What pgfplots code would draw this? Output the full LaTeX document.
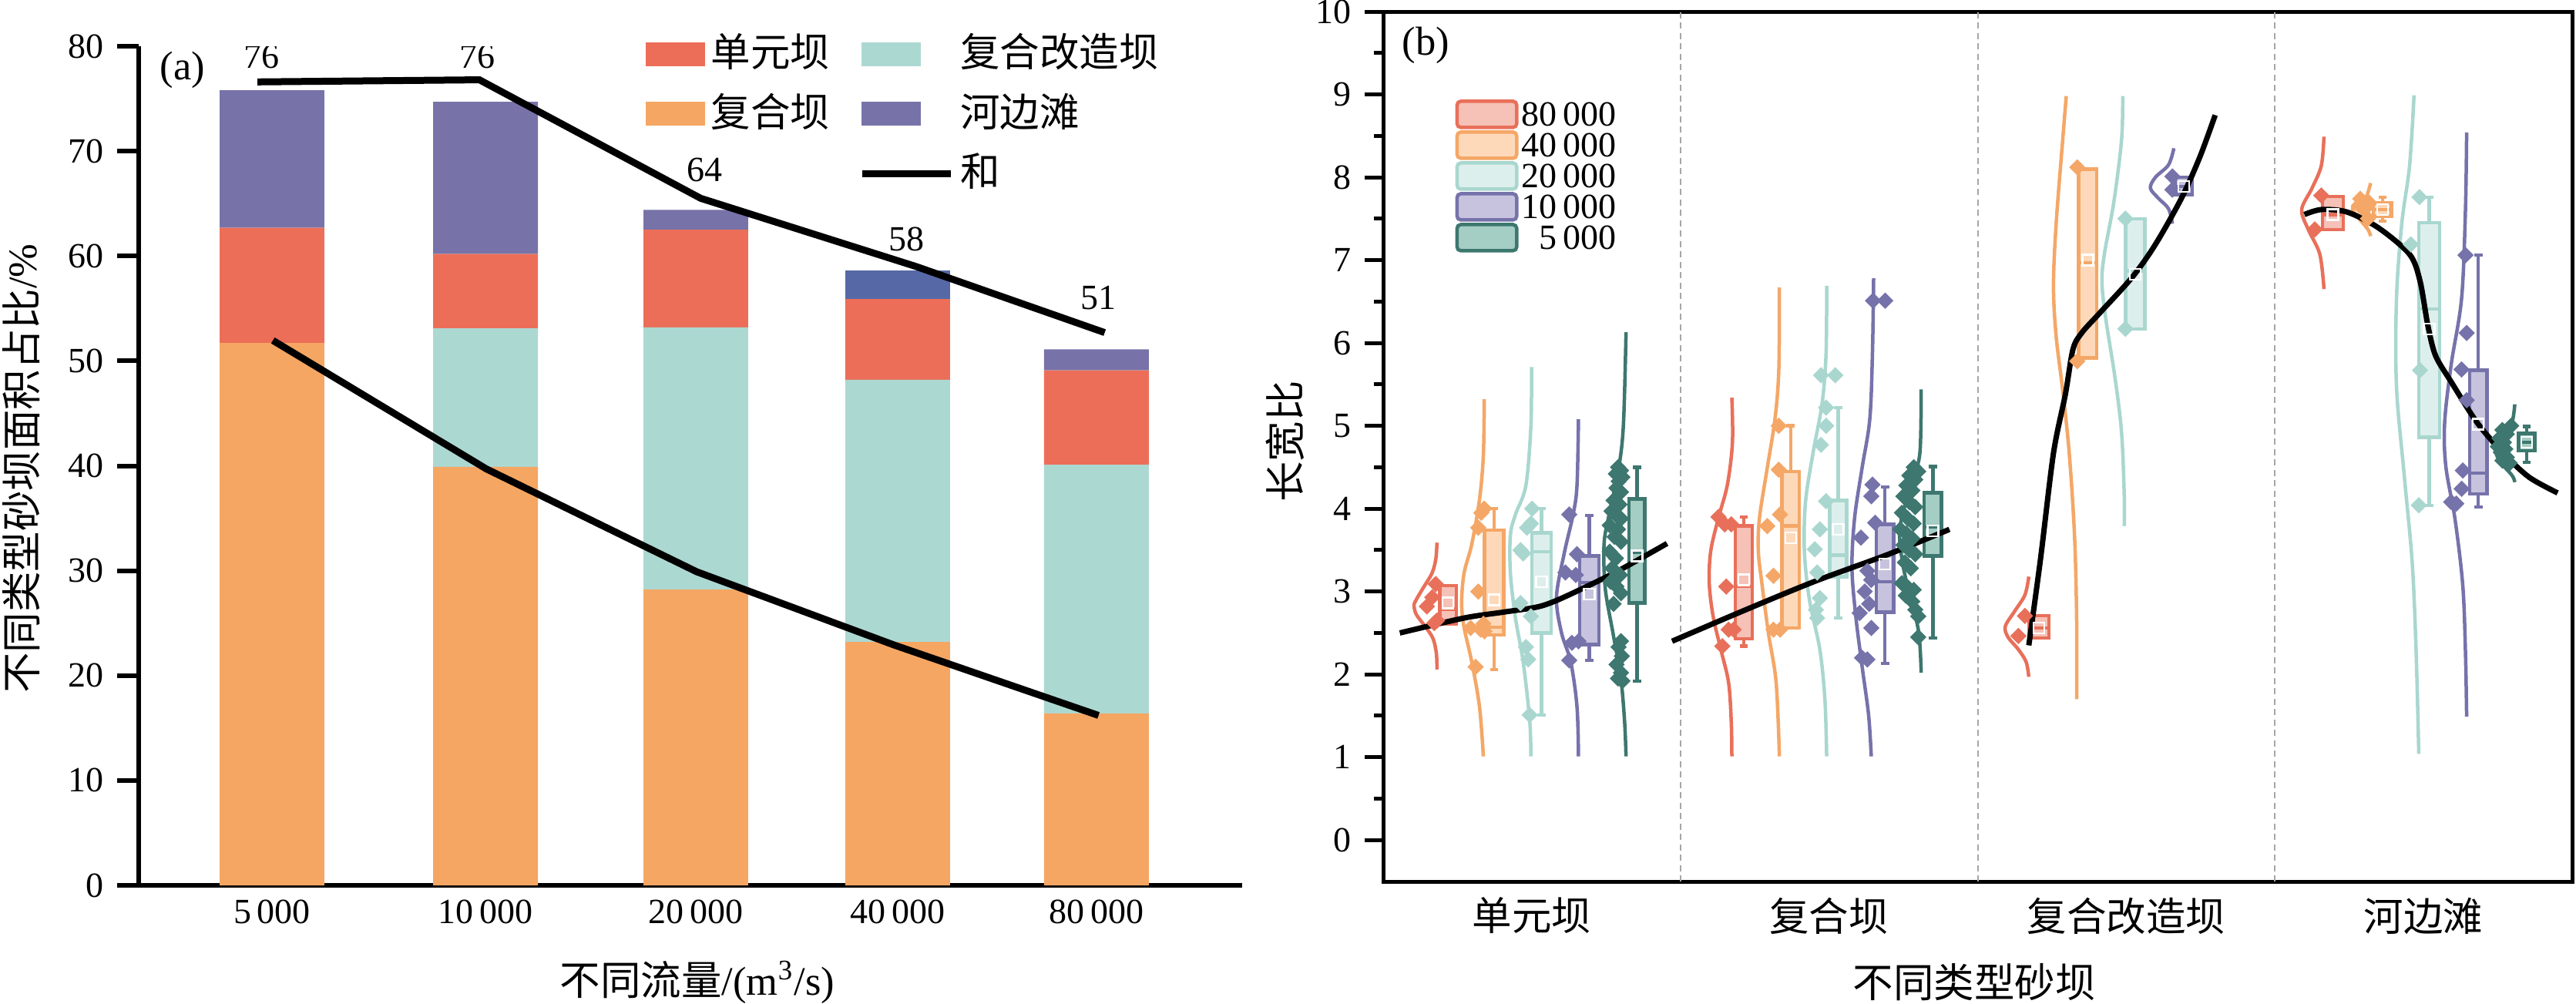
\documentclass[border=0pt]{standalone}
\usepackage{pgfplots}
\pgfplotsset{compat=1.18}
\usepgfplotslibrary{statistics}
\usepackage{pgfplotstable}
\usepackage{fontspec}
\setmainfont{Liberation Serif}
\newfontfamily\cjk{Noto Sans CJK SC}

\definecolor{aorange}{HTML}{F5A663}
\definecolor{ared}{HTML}{EC6E58}
\definecolor{ateal}{HTML}{ACD8D2}
\definecolor{apurple}{HTML}{7773A9}
\definecolor{ablue}{HTML}{5668A6}

\definecolor{bred}{HTML}{E8705A}
\definecolor{bredf}{HTML}{F6C1B6}
\definecolor{bor}{HTML}{F4A767}
\definecolor{borf}{HTML}{FDD9BA}
\definecolor{bte}{HTML}{A9D7D0}
\definecolor{btef}{HTML}{DDEFEC}
\definecolor{bpu}{HTML}{7672AA}
\definecolor{bpuf}{HTML}{C7C3DE}
\definecolor{bdt}{HTML}{3D776F}
\definecolor{bdtf}{HTML}{A4CDC4}

\pgfplotstableread{
x fuhe gaizao danyuan hebian hebianB
0     51.7 0    11.0 13.1 0
1.036 39.9 13.2 7.1  14.5 0
2.056 28.2 25.0 9.3  1.9  0
3.035 23.2 25.0 7.7  0    2.7
4.0   16.4 23.7 9.0  2.0  0
}\dataA

\newcommand{\bxp}[9]{\addplot[boxplot prepared={draw direction=y, draw position=#3, box extend=#4, lower whisker=#5, lower quartile=#6, median=#7, upper quartile=#8, upper whisker=#9, whisker extend=0.028}, draw=#1, fill=#2, line width=0.9pt, solid] coordinates {};}

\pgfplotsset{
  vio/.style={smooth, tension=0.55, line width=0.9pt, draw=#1, no markers},
  dia/.style={only marks, mark=square*, mark size=1.3pt, mark options={rotate=45, draw=#1, fill=#1}},
  avg/.style={only marks, mark=square, mark size=1.4pt, mark options={draw=white, line width=0.5pt, fill=none}},
}

\begin{document}
\begin{tikzpicture}
\path[use as bounding box] (0,0) rectangle (668.6pt,260.4pt);

% ---------------- panel (a): bars
\begin{axis}[
  at={(36pt,30.6pt)}, anchor=south west,
  width=286.4pt, height=217.8pt, scale only axis,
  xmin=-0.647, xmax=4.707, ymin=0, ymax=80,
  ybar stacked, bar width=0.508,
  axis x line*=bottom, axis y line*=left,
  axis line style={-, line width=1.2pt},
  ytick={0,10,...,80},
  tick align=outside, major tick length=5.6pt,
  ytick style={line width=1.2pt, black},
  xtick={0,1.036,2.056,3.035,4},
  xticklabels={5\,000,10\,000,20\,000,40\,000,80\,000},
  xtick style={draw=none},
  xticklabel style={yshift=5.3pt},
  tick label style={font=\fontsize{9.2}{10}\selectfont},
  /pgf/number format/assume math mode=true,
]
\addplot[fill=aorange, draw=none] table[x=x,y=fuhe]{\dataA};
\addplot[fill=ateal, draw=none] table[x=x,y=gaizao]{\dataA};
\addplot[fill=ared, draw=none] table[x=x,y=danyuan]{\dataA};
\addplot[fill=apurple, draw=none] table[x=x,y=hebian]{\dataA};
\addplot[fill=ablue, draw=none] table[x=x,y=hebianB]{\dataA};
\end{axis}

% ---------------- panel (a): lines, labels, legend
\begin{axis}[
  at={(36pt,30.6pt)}, anchor=south west,
  width=286.4pt, height=217.8pt, scale only axis,
  xmin=-0.647, xmax=4.707, ymin=0, ymax=80,
  hide axis,
  legend columns=2,
  legend style={at={(rel axis cs:0.459,1.02)}, anchor=north west, draw=none, fill=none,
    inner sep=0pt, font=\cjk\fontsize{10.3}{11}\selectfont, row sep=3pt,
    nodes={inner sep=1.5pt, text height=8pt, text depth=1.5pt},
    /tikz/every even column/.append style={column sep=6pt}},
  legend cell align=left,
]
\addlegendimage{legend image code/.code={\fill[ared] (0pt,-2.9pt) rectangle (15pt,2.9pt);}}
\addlegendentry{单元坝}
\addlegendimage{legend image code/.code={\fill[ateal] (0pt,-2.9pt) rectangle (15pt,2.9pt);}}
\addlegendentry{复合改造坝}
\addlegendimage{legend image code/.code={\fill[aorange] (0pt,-2.9pt) rectangle (15pt,2.9pt);}}
\addlegendentry{复合坝}
\addlegendimage{legend image code/.code={\fill[apurple] (0pt,-2.9pt) rectangle (15pt,2.9pt);}}
\addlegendentry{河边滩}
\addlegendimage{empty legend}
\addlegendentry{}
\addlegendimage{legend image code/.code={\draw[black, line width=1.8pt] (0pt,0pt) -- (23pt,0pt);}}
\addlegendentry{和}

\addplot[black, line width=1.8pt] coordinates {(-0.071,76.6) (1.006,76.8) (2.08,65.5) (3.125,59.0) (4.04,52.7)};
\addplot[black, line width=1.8pt] coordinates {(0.004,51.95) (1.04,39.7) (2.06,29.9) (3.02,22.9) (4.01,16.2)};

\node[font=\fontsize{9.2}{10}\selectfont] at (axis cs:-0.05,79.0) {76};
\node[font=\fontsize{9.2}{10}\selectfont] at (axis cs:0.998,79.0) {76};
\node[font=\fontsize{9.2}{10}\selectfont] at (axis cs:2.10,68.2) {64};
\node[font=\fontsize{9.2}{10}\selectfont] at (axis cs:3.08,61.6) {58};
\node[font=\fontsize{9.2}{10}\selectfont] at (axis cs:4.01,56.0) {51};
\node[font=\fontsize{10.5}{11}\selectfont] at (axis cs:-0.434,77.7) {(a)};
\end{axis}

% ---------------- panel (b)
\begin{axis}[
  at={(359pt,31.6pt)}, anchor=south west,
  width=308.6pt, height=225.8pt, scale only axis,
  xmin=0.5, xmax=4.5, ymin=-0.5, ymax=10,
  axis line style={line width=1pt},
  ytick={0,1,...,10}, minor ytick={0.5,1.5,...,9.5},
  ytick pos=left, tick align=outside,
  major tick length=4.8pt, minor tick length=2.4pt,
  tick style={line width=1pt, black},
  xtick={1,2,3,4},
  xticklabels={单元坝,复合坝,复合改造坝,河边滩},
  xtick style={draw=none},
  xticklabel style={font=\cjk\fontsize{10.3}{11}\selectfont, yshift=4.2pt},
  yticklabel style={font=\fontsize{9.2}{10}\selectfont},
  /pgf/number format/assume math mode=true,
  extra x ticks={1.5,2.5,3.5},
  extra x tick labels={},
  extra x tick style={grid=major, major grid style={gray!70, line width=0.4pt, dash pattern=on 1.6pt off 1.1pt}, tick style={draw=none}},
  legend image code/.code={\draw[#1, rounded corners=1pt] (0pt,-3.4pt) rectangle (15.5pt,3.4pt);},
  legend style={at={(rel axis cs:0.060,0.900)}, anchor=north west, draw=none, fill=none,
    inner sep=0pt, font=\fontsize{9.2}{9}\selectfont, row sep=0.2pt,
    nodes={inner sep=0.8pt, text height=6.2pt, text depth=0pt}},
  legend cell align=right,
]
\addlegendimage{draw=bred, fill=bredf, line width=0.9pt}
\addlegendentry{80\,000}
\addlegendimage{draw=bor, fill=borf, line width=0.9pt}
\addlegendentry{40\,000}
\addlegendimage{draw=bte, fill=btef, line width=0.9pt}
\addlegendentry{20\,000}
\addlegendimage{draw=bpu, fill=bpuf, line width=0.9pt}
\addlegendentry{10\,000}
\addlegendimage{draw=bdt, fill=bdtf, line width=0.9pt}
\addlegendentry{5\,000}

% ---- violins
% cat 1
\addplot[vio=bred] coordinates {(0.681,3.59) (0.677,3.39) (0.664,3.22) (0.634,3.04) (0.608,2.88) (0.604,2.82) (0.612,2.72) (0.643,2.57) (0.668,2.43) (0.679,2.25) (0.681,2.06)};
\addplot[vio=bor] coordinates {(0.840,5.32) (0.837,4.64) (0.824,4.11) (0.798,3.57) (0.772,3.22) (0.764,2.86) (0.772,2.57) (0.798,2.15) (0.824,1.61) (0.837,1.01)};
\addplot[vio=bte] coordinates {(0.999,5.71) (0.997,5.00) (0.980,4.28) (0.945,3.93) (0.928,3.68) (0.928,3.22) (0.945,2.68) (0.971,2.15) (0.993,1.44) (0.997,1.01)};
\addplot[vio=bpu] coordinates {(1.157,5.08) (1.152,4.28) (1.139,3.93) (1.109,3.46) (1.083,2.93) (1.100,2.50) (1.131,2.15) (1.152,1.61) (1.157,1.01)};
\addplot[vio=bdt] coordinates {(1.317,6.13) (1.308,5.00) (1.291,4.46) (1.260,3.93) (1.243,3.57) (1.247,3.04) (1.273,2.50) (1.299,1.97) (1.312,1.44) (1.317,1.01)};
% cat 2
\addplot[vio=bred] coordinates {(1.673,5.34) (1.675,4.80) (1.658,4.29) (1.628,3.89) (1.602,3.49) (1.597,3.10) (1.610,2.70) (1.636,2.30) (1.662,1.90) (1.671,1.43) (1.673,1.01)};
\addplot[vio=bor] coordinates {(1.833,6.67) (1.831,5.68) (1.818,5.08) (1.792,4.49) (1.766,3.89) (1.762,3.49) (1.774,3.10) (1.796,2.50) (1.822,1.90) (1.833,1.01)};
\addplot[vio=bte] coordinates {(1.992,6.69) (1.990,5.88) (1.977,5.28) (1.947,4.69) (1.921,4.09) (1.917,3.49) (1.934,2.90) (1.969,2.30) (1.986,1.70) (1.992,1.01)};
\addplot[vio=bpu] coordinates {(2.150,6.78) (2.146,5.88) (2.137,5.08) (2.111,4.49) (2.086,3.89) (2.077,3.29) (2.090,2.70) (2.111,2.10) (2.133,1.51) (2.142,1.01)};
\addplot[vio=bdt] coordinates {(2.310,5.44) (2.306,4.69) (2.284,4.37) (2.250,3.97) (2.237,3.69) (2.250,3.29) (2.276,2.90) (2.302,2.50) (2.310,2.02)};
% cat 3
\addplot[vio=bred] coordinates {(2.672,3.18) (2.659,2.96) (2.624,2.76) (2.593,2.58) (2.602,2.45) (2.637,2.30) (2.663,2.15) (2.672,1.97)};
\addplot[vio=bor] coordinates {(2.798,8.98) (2.786,8.45) (2.764,7.44) (2.755,6.69) (2.764,6.08) (2.786,5.43) (2.808,4.67) (2.826,3.66) (2.833,2.65) (2.833,1.70)};
\addplot[vio=bte] coordinates {(2.988,8.98) (2.984,8.45) (2.958,7.70) (2.927,7.09) (2.918,6.74) (2.931,6.29) (2.962,5.58) (2.984,4.92) (2.993,4.17) (2.993,3.79)};
\addplot[vio=bpu] coordinates {(3.160,8.35) (3.142,8.15) (3.098,8.00) (3.081,7.87) (3.107,7.75) (3.142,7.62) (3.155,7.44)};
% cat 4
\addplot[vio=bred] coordinates {(3.665,8.49) (3.656,8.14) (3.625,7.87) (3.590,7.61) (3.612,7.37) (3.651,7.07) (3.665,6.65)};
\addplot[vio=bor] coordinates {(3.822,7.93) (3.804,7.74) (3.769,7.66) (3.761,7.61) (3.783,7.50) (3.813,7.37) (3.822,7.29)};
\addplot[vio=bte] coordinates {(3.968,8.99) (3.953,8.14) (3.927,7.45) (3.909,6.54) (3.909,5.47) (3.935,4.40) (3.962,3.34) (3.975,2.27) (3.984,1.04)};
\addplot[vio=bpu] coordinates {(4.145,8.54) (4.141,7.61) (4.128,6.54) (4.093,5.74) (4.071,5.04) (4.075,4.51) (4.106,3.87) (4.132,3.07) (4.141,2.27) (4.145,1.49)};
\addplot[vio=bdt] coordinates {(4.307,5.26) (4.294,4.99) (4.250,4.78) (4.241,4.70) (4.259,4.56) (4.298,4.40) (4.307,4.32)};

% ---- boxes
\bxp{bred}{bredf}{0.718}{0.056}{2.61}{2.61}{2.79}{3.07}{3.07}
\bxp{bor}{borf}{0.873}{0.065}{2.06}{2.475}{2.57}{3.74}{4.00}
\bxp{bte}{btef}{1.033}{0.065}{1.51}{2.50}{3.48}{3.71}{4.00}
\bxp{bpu}{bpuf}{1.193}{0.065}{2.17}{2.36}{3.11}{3.43}{3.92}
\bxp{bdt}{bdtf}{1.354}{0.053}{1.92}{2.86}{3.47}{4.12}{4.50}
\bxp{bred}{bredf}{1.713}{0.058}{2.34}{2.43}{3.06}{3.79}{3.90}
\bxp{bor}{borf}{1.871}{0.058}{2.56}{2.56}{3.79}{4.45}{5.00}
\bxp{bte}{btef}{2.031}{0.057}{2.68}{3.18}{3.44}{4.10}{5.22}
\bxp{bpu}{bpuf}{2.188}{0.058}{2.13}{2.75}{3.12}{3.81}{4.26}
\bxp{bdt}{bdtf}{2.349}{0.059}{2.44}{3.43}{3.78}{4.19}{4.51}
\bxp{bred}{bredf}{2.706}{0.068}{2.44}{2.44}{2.56}{2.71}{2.71}
\bxp{bor}{borf}{2.870}{0.062}{5.82}{5.82}{6.97}{8.10}{8.10}
\bxp{bte}{btef}{3.030}{0.066}{6.17}{6.17}{6.87}{7.50}{7.50}
\bxp{bpu}{bpuf}{3.193}{0.057}{7.79}{7.79}{7.89}{8.00}{8.00}
\bxp{bred}{bredf}{3.695}{0.070}{7.37}{7.37}{7.55}{7.77}{7.77}
\bxp{bor}{borf}{3.862}{0.061}{7.47}{7.53}{7.61}{7.69}{7.76}
\bxp{bte}{btef}{4.019}{0.070}{4.04}{4.86}{6.41}{7.45}{7.76}
\bxp{bpu}{bpuf}{4.184}{0.059}{4.02}{4.18}{4.43}{5.67}{7.06}
\bxp{bdt}{bdtf}{4.347}{0.054}{4.56}{4.70}{4.80}{4.91}{4.99}

% ---- scatter
\addplot[dia=bred] coordinates {(0.647,2.82) (0.677,3.09) (0.681,2.65) (0.665,2.93) (0.672,2.62)
  (1.628,3.90) (1.649,3.81) (1.671,3.81) (1.654,3.06) (1.662,2.54) (1.679,2.54) (1.641,2.34)
  (2.659,2.705) (2.637,2.463) (3.656,7.78) (3.634,7.37)};
\addplot[dia=bor] coordinates {(0.840,4.00) (0.820,3.77) (0.830,3.95) (0.820,3.00) (0.794,2.56) (0.828,2.54) (0.841,2.52) (0.811,2.09) (0.837,2.61)
  (1.831,5.00) (1.831,4.47) (1.835,3.93) (1.792,3.79) (1.813,3.19) (1.813,2.54) (1.835,2.54)
  (2.835,8.12) (2.835,5.78)
  (3.787,7.74) (3.800,7.61) (3.813,7.50) (3.818,7.69) (3.783,7.66)};
\addplot[dia=bte] coordinates {(1.001,4.00) (0.997,3.82) (0.984,3.77) (0.962,3.50) (0.971,3.46) (0.962,2.86) (0.997,2.70) (0.980,2.33) (0.988,2.18) (0.993,1.51)
  (1.973,5.61) (2.021,5.61) (1.990,5.22) (1.990,5.00) (1.973,4.77) (1.990,4.09) (1.969,3.75) (1.952,3.51) (1.960,3.23) (1.969,2.92) (1.956,2.78) (1.960,2.68)
  (2.997,7.50) (2.997,6.17)
  (3.986,7.76) (3.957,7.19) (3.988,5.67) (3.984,4.04)};
\addplot[dia=bpu] coordinates {(1.126,3.93) (1.152,3.45) (1.113,3.23) (1.148,3.20) (1.135,2.38) (1.157,2.40) (1.126,2.17)
  (2.148,6.51) (2.189,6.51) (2.146,4.29) (2.142,4.15) (2.155,3.83) (2.107,3.65) (2.129,3.25) (2.142,3.14) (2.103,2.74) (2.142,2.56) (2.111,2.20) (2.129,2.18) (2.120,3.00) (2.135,2.85)
  (3.155,8.01) (3.155,7.85)
  (4.141,7.06) (4.145,6.12) (4.128,5.68) (4.145,5.31) (4.132,4.46) (4.128,4.24) (4.110,4.06) (4.093,4.08)};
\addplot[dia=bdt] coordinates {(1.290,4.50) (1.300,4.46) (1.283,4.42) (1.305,4.38) (1.292,4.33) (1.285,4.25) (1.300,4.20) (1.275,4.10) (1.295,4.05) (1.268,3.97) (1.285,3.92) (1.300,3.88) (1.262,3.80) (1.290,3.75) (1.278,3.66) (1.300,3.60) (1.262,3.48) (1.283,3.40) (1.270,3.28) (1.297,3.20) (1.265,3.12) (1.285,3.06) (1.300,2.98) (1.275,2.85) (1.300,2.40) (1.292,2.33) (1.303,2.22) (1.285,2.12) (1.300,2.02) (1.290,1.95) (1.305,1.92)
  (2.285,4.50) (2.300,4.45) (2.270,4.40) (2.290,4.35) (2.260,4.28) (2.280,4.22) (2.250,4.15) (2.270,4.08) (2.290,4.02) (2.245,3.95) (2.265,3.88) (2.285,3.82) (2.240,3.75) (2.260,3.70) (2.280,3.64) (2.250,3.56) (2.270,3.50) (2.290,3.45) (2.255,3.35) (2.275,3.28) (2.245,3.10) (2.265,3.05) (2.285,3.02) (2.258,2.95) (2.280,2.88) (2.290,2.78) (2.300,2.70) (2.300,2.45)
  (4.265,4.95) (4.280,4.90) (4.255,4.85) (4.270,4.80) (4.250,4.75) (4.275,4.72) (4.260,4.68) (4.280,4.62) (4.265,4.58) (4.290,4.55) (4.295,5.00)};

% ---- means
\addplot[avg] coordinates {(0.718,2.86) (0.873,2.90) (1.033,3.12) (1.193,2.97) (1.354,3.43)
  (1.713,3.14) (1.871,3.65) (2.031,3.75) (2.188,3.33) (2.349,3.73)
  (2.706,2.56) (2.870,7.00) (3.030,6.83) (3.193,7.89)
  (3.695,7.55) (3.862,7.61) (4.019,6.17) (4.184,5.02) (4.347,4.80)};

% ---- trend lines
\addplot[black, line width=1.4pt, smooth, tension=0.5] coordinates {(0.556,2.50) (0.772,2.68) (0.902,2.75) (1.014,2.81) (1.075,2.88) (1.161,3.02) (1.291,3.25) (1.455,3.58)};
\addplot[black, line width=1.4pt, smooth, tension=0.5] coordinates {(1.472,2.40) (1.70,2.75) (1.95,3.12) (2.20,3.45) (2.405,3.75)};
\addplot[black, line width=1.4pt, smooth, tension=0.5] coordinates {(2.672,2.35) (2.712,3.41) (2.755,4.67) (2.795,5.38) (2.821,5.93) (2.852,6.13) (2.905,6.34) (3.019,6.79) (3.098,7.19) (3.186,7.75) (3.248,8.25) (3.299,8.75)};
\addplot[black, line width=1.4pt, smooth, tension=0.5] coordinates {(3.599,7.55) (3.656,7.61) (3.743,7.58) (3.848,7.39) (3.953,7.07) (3.988,6.75) (4.014,6.22) (4.040,5.85) (4.093,5.53) (4.180,5.04) (4.268,4.67) (4.355,4.38) (4.451,4.19)};

\node[font=\fontsize{10.5}{11}\selectfont] at (axis cs:0.643,9.59) {(b)};
\end{axis}

% ---------------- axis titles
\node[rotate=90, font=\fontsize{10.5}{11}\selectfont] at (5.6pt,138.8pt) {{\cjk 不同类型砂坝面积占比}/\%};
\node[font=\fontsize{10.5}{11}\selectfont] at (181pt,5.4pt) {{\cjk 不同流量}/(m\textsuperscript{3}/s)};
\node[rotate=90, font=\cjk\fontsize{10.5}{11}\selectfont] at (333.6pt,145.8pt) {长宽比};
\node[font=\cjk\fontsize{10.5}{11}\selectfont] at (512.4pt,5.4pt) {不同类型砂坝};
\end{tikzpicture}
\end{document}
